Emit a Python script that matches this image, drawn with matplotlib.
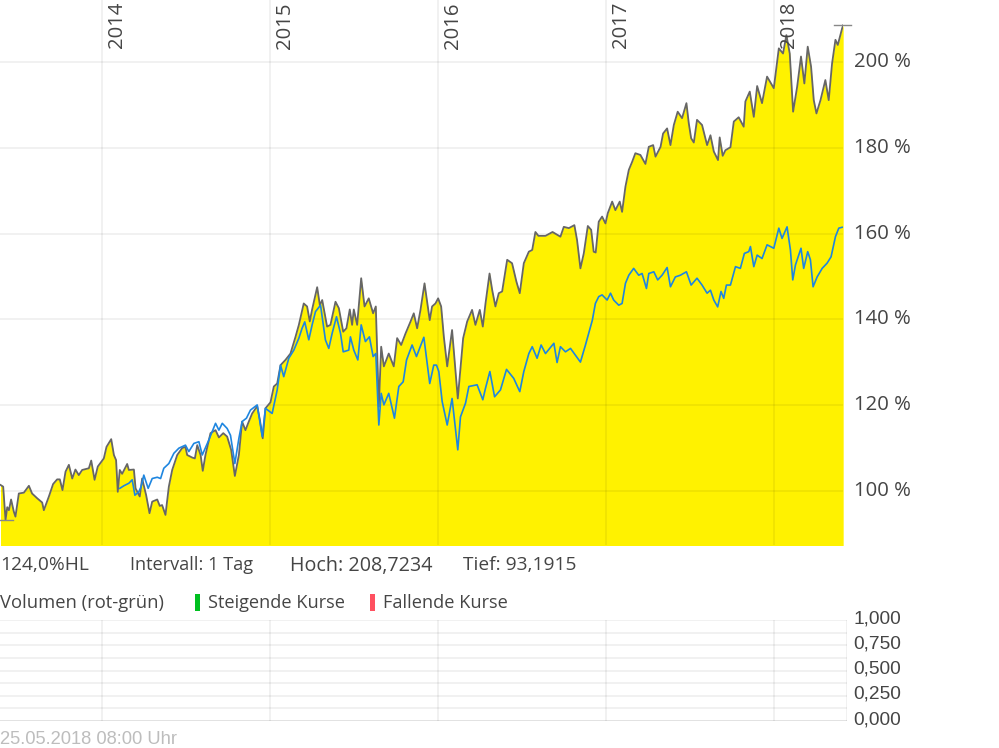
import matplotlib
matplotlib.use("Agg")
import matplotlib.pyplot as plt
from matplotlib.patches import Rectangle

W, H = 999, 748

grey_points = [
(2013.396,101.3),(2013.412,100.9),(2013.426,93.1),(2013.436,96.1),(2013.446,95.4),(2013.459,97.9),(2013.475,95.1),(2013.485,93.9),
(2013.505,99.3),(2013.535,99.5),(2013.565,101.1),(2013.584,99.3),(2013.614,98.2),(2013.644,97.2),(2013.654,95.4),(2013.684,98.6),
(2013.709,101.5),(2013.733,102.6),(2013.749,102.6),(2013.765,100.1),(2013.783,104.4),(2013.803,106.0),(2013.823,102.8),(2013.842,104.9),
(2013.862,103.6),(2013.882,104.8),(2013.922,105.2),(2013.936,107.0),(2013.956,102.5),(2013.975,105.6),(2014.011,107.5),(2014.027,110.2),
(2014.055,112.0),(2014.071,108.3),(2014.084,107.1),(2014.094,99.7),(2014.106,104.8),(2014.120,103.9),(2014.150,106.2),(2014.160,104.8),
(2014.190,104.9),(2014.200,100.5),(2014.225,98.6),(2014.239,102.8),(2014.263,98.9),(2014.283,94.7),(2014.299,97.4),(2014.329,97.9),
(2014.344,96.4),(2014.358,96.6),(2014.378,94.3),(2014.398,100.9),(2014.418,104.8),(2014.448,108.3),(2014.477,109.9),(2014.497,110.2),
(2014.507,108.3),(2014.537,107.7),(2014.553,107.5),(2014.567,110.6),(2014.587,108.3),(2014.600,104.6),(2014.616,108.3),(2014.646,113.4),
(2014.676,114.1),(2014.696,112.4),(2014.722,113.4),(2014.745,112.6),(2014.769,109.5),(2014.791,103.4),(2014.815,108.3),(2014.834,116.1),
(2014.854,114.1),(2014.874,116.1),(2014.894,118.0),(2014.924,119.7),(2014.940,116.5),(2014.957,112.2),(2014.973,119.2),(2015.003,120.6),
(2015.023,124.3),(2015.043,125.0),(2015.063,129.3),(2015.092,130.5),(2015.122,132.0),(2015.152,135.9),(2015.172,138.7),(2015.201,143.7),
(2015.221,143.0),(2015.237,139.5),(2015.251,142.3),(2015.281,147.5),(2015.297,143.3),(2015.311,144.5),(2015.340,138.3),(2015.360,138.7),
(2015.390,144.1),(2015.410,142.6),(2015.436,137.1),(2015.455,137.9),(2015.475,142.3),(2015.489,138.7),(2015.499,142.3),(2015.519,138.7),
(2015.543,149.6),(2015.563,143.0),(2015.588,144.9),(2015.614,141.4),(2015.630,143.0),(2015.648,119.6),(2015.662,133.6),(2015.678,129.0),
(2015.707,132.0),(2015.737,129.0),(2015.757,135.6),(2015.781,134.0),(2015.807,136.7),(2015.837,139.5),(2015.856,141.4),(2015.876,137.9),
(2015.896,142.2),(2015.920,148.4),(2015.951,139.8),(2015.965,143.0),(2015.985,143.7),(2016.001,144.9),(2016.019,143.0),(2016.035,135.9),
(2016.055,129.0),(2016.084,137.5),(2016.118,121.5),(2016.150,135.6),(2016.174,139.5),(2016.203,142.2),(2016.223,138.7),(2016.249,142.2),
(2016.267,138.3),(2016.283,143.7),(2016.307,150.7),(2016.323,146.8),(2016.342,143.0),(2016.362,146.1),(2016.382,146.5),(2016.412,153.9),
(2016.441,153.1),(2016.467,148.8),(2016.487,146.1),(2016.511,153.1),(2016.541,155.8),(2016.561,156.2),(2016.580,160.4),(2016.598,159.5),
(2016.640,159.5),(2016.682,160.4),(2016.729,159.3),(2016.749,161.6),(2016.779,161.3),(2016.812,162.0),(2016.828,158.5),(2016.848,151.9),
(2016.868,155.4),(2016.892,161.8),(2016.912,160.9),(2016.927,155.8),(2016.939,155.6),(2016.957,162.8),(2016.977,164.0),(2016.997,162.4),
(2017.011,164.8),(2017.037,167.5),(2017.056,165.5),(2017.082,167.5),(2017.096,165.1),(2017.116,171.0),(2017.136,174.9),(2017.156,176.8),
(2017.175,178.8),(2017.205,178.4),(2017.235,176.3),(2017.255,180.3),(2017.281,180.7),(2017.295,178.0),(2017.325,180.3),(2017.340,183.4),
(2017.364,184.6),(2017.384,180.7),(2017.404,185.4),(2017.427,188.5),(2017.453,187.0),(2017.479,190.5),(2017.493,185.8),(2017.507,182.3),
(2017.523,181.3),(2017.542,186.6),(2017.572,185.4),(2017.602,180.7),(2017.622,183.0),(2017.642,179.2),(2017.667,177.2),(2017.677,182.5),
(2017.695,178.2),(2017.711,179.5),(2017.741,180.2),(2017.761,186.2),(2017.790,187.2),(2017.820,185.0),(2017.830,190.9),(2017.856,193.2),
(2017.880,187.3),(2017.900,194.5),(2017.929,190.5),(2017.959,196.7),(2017.999,194.0),(2018.029,203.3),(2018.054,202.1),(2018.074,206.4),
(2018.094,202.1),(2018.114,188.5),(2018.138,194.3),(2018.161,201.4),(2018.181,195.1),(2018.201,203.7),(2018.221,199.0),(2018.237,191.2),
(2018.253,188.1),(2018.277,191.2),(2018.306,195.9),(2018.326,191.2),(2018.346,199.8),(2018.366,205.3),(2018.380,204.1),(2018.406,208.0),
(2018.412,208.7),
]
grey_years = [p[0] for p in grey_points]
grey_values = [p[1] for p in grey_points]

blue_points = [
(2014.106,100.5),(2014.130,101.1),(2014.160,101.7),(2014.180,102.5),(2014.196,98.9),(2014.219,99.7),(2014.233,100.9),(2014.249,103.6),
(2014.275,100.5),(2014.299,102.8),(2014.329,103.1),(2014.349,102.8),(2014.368,105.2),(2014.398,106.3),(2014.428,108.7),(2014.458,109.9),
(2014.497,110.6),(2014.517,109.1),(2014.547,111.0),(2014.577,111.4),(2014.597,108.3),(2014.636,111.8),(2014.676,115.7),(2014.696,114.1),
(2014.716,115.7),(2014.745,114.5),(2014.765,112.9),(2014.791,106.3),(2014.815,112.2),(2014.834,116.1),(2014.860,116.9),(2014.884,118.8),
(2014.924,120.0),(2014.954,112.6),(2014.973,119.2),(2015.013,118.0),(2015.043,123.5),(2015.063,129.3),(2015.082,126.6),(2015.112,130.9),
(2015.142,132.8),(2015.172,135.6),(2015.191,137.9),(2015.207,139.4),(2015.231,135.2),(2015.251,138.7),(2015.271,141.8),(2015.301,143.3),
(2015.330,135.2),(2015.350,133.2),(2015.370,136.7),(2015.396,140.6),(2015.420,136.7),(2015.436,132.4),(2015.469,132.8),(2015.479,135.9),
(2015.499,132.8),(2015.523,130.5),(2015.543,138.7),(2015.568,134.8),(2015.592,135.9),(2015.614,131.3),(2015.630,132.0),(2015.648,115.3),
(2015.662,122.7),(2015.678,120.0),(2015.707,122.7),(2015.741,116.9),(2015.767,124.3),(2015.793,125.4),(2015.813,130.5),(2015.846,134.0),
(2015.872,131.3),(2015.916,135.8),(2015.951,125.0),(2015.975,129.3),(2015.991,129.3),(2016.005,127.8),(2016.025,120.8),(2016.055,115.3),
(2016.084,121.5),(2016.118,109.5),(2016.134,117.2),(2016.164,120.4),(2016.184,124.3),(2016.233,124.7),(2016.267,121.2),(2016.283,123.9),
(2016.309,127.8),(2016.337,121.9),(2016.372,123.5),(2016.408,128.3),(2016.451,126.2),(2016.487,123.1),(2016.511,127.8),(2016.541,132.0),
(2016.561,133.6),(2016.590,130.9),(2016.614,134.0),(2016.640,132.0),(2016.690,134.4),(2016.709,129.9),(2016.729,133.6),(2016.759,132.4),
(2016.789,133.2),(2016.848,130.0),(2016.878,134.0),(2016.919,139.8),(2016.937,143.7),(2016.957,145.3),(2016.977,145.7),(2017.007,144.5),
(2017.027,146.1),(2017.046,144.5),(2017.076,143.3),(2017.096,143.7),(2017.116,148.4),(2017.136,150.3),(2017.165,151.9),(2017.195,150.3),
(2017.215,150.7),(2017.241,147.2),(2017.255,150.7),(2017.285,151.1),(2017.308,149.2),(2017.334,150.3),(2017.364,152.1),(2017.384,147.6),
(2017.413,149.9),(2017.443,150.3),(2017.479,151.1),(2017.507,148.0),(2017.542,149.6),(2017.572,148.0),(2017.602,146.1),(2017.622,146.8),
(2017.642,144.5),(2017.665,142.9),(2017.685,146.5),(2017.701,144.9),(2017.717,148.0),(2017.741,148.0),(2017.771,152.3),(2017.800,151.9),
(2017.824,155.4),(2017.850,155.8),(2017.860,157.0),(2017.880,152.3),(2017.900,155.0),(2017.929,154.2),(2017.959,157.4),(2017.999,156.6),
(2018.029,161.3),(2018.048,158.9),(2018.078,161.6),(2018.098,156.2),(2018.112,149.2),(2018.128,152.7),(2018.161,156.6),(2018.177,151.9),
(2018.201,155.8),(2018.217,153.9),(2018.233,147.6),(2018.257,149.9),(2018.287,151.9),(2018.316,153.1),(2018.340,154.6),(2018.366,159.3),
(2018.386,161.3),(2018.406,161.5),
]
blue_years = [p[0] for p in blue_points]
blue_values = [p[1] for p in blue_points]

year_ticks = [2014, 2015, 2016, 2017, 2018]
pct_ticks = [100, 120, 140, 160, 180, 200]
vol_labels = ["0,000", "0,250", "0,500", "0,750", "1,000"]
vol_ticks = [0, 0.25, 0.5, 0.75, 1.0]
vol_grid = [0, 0.125, 0.25, 0.375, 0.5, 0.625, 0.75, 0.875, 1.0]
high_value = 208.7234
low_value = 93.1915

TXT = "#454545"
GRID_ALPHA = 0.065
plt.rcParams["font.family"] = "Open Sans"

fig = plt.figure(figsize=(W / 100, H / 100), dpi=100, facecolor="white")

def box(l, t, r, b):
    return [l / W, 1 - b / H, (r - l) / W, (b - t) / H]

ax = fig.add_axes(box(0, 0, 843, 545))
ax.set_xlim(2013.393, 2018.411)
ax.set_ylim(87.27, 214.6)
for s in ax.spines.values():
    s.set_visible(False)
ax.fill_between(grey_years, grey_values, 80, color="#FFF200", lw=0, zorder=1)
ax.set_xticks(year_ticks)
ax.set_yticks(pct_ticks)
ax.grid(True, color="black", alpha=GRID_ALPHA, lw=1.2, zorder=2)
ax.set_axisbelow(False)
ax.tick_params(length=0, labelbottom=False)
ax.yaxis.tick_right()
ax.set_yticklabels([f"{v} %" for v in pct_ticks], fontsize=14.6, color=TXT, va="center")
ax.tick_params(axis="y", pad=8)
ax.plot(grey_years, grey_values, color="#666666", lw=1.3, zorder=3, solid_joinstyle="round")
ax.plot(blue_years, blue_values, color="#1E86E0", lw=1.2, zorder=4, solid_joinstyle="round")
ax.plot([2018.355, 2018.456], [high_value, high_value], color="#888888", lw=1, clip_on=False, zorder=5)
ax.plot([2013.393, 2013.473], [low_value, low_value], color="#888888", lw=1, clip_on=False, zorder=5)
for y in year_ticks:
    ax.annotate(str(y), (y, 1), xycoords=("data", "axes fraction"), xytext=(10.5, -1.5),
                textcoords="offset points", rotation=90, ha="center", va="top",
                fontsize=14.6, color=TXT, zorder=6)

vol = fig.add_axes(box(0, 620, 847, 721))
vol.set_xlim(2013.393, 2018.435)
vol.set_ylim(0, 1)
for s in vol.spines.values():
    s.set_visible(False)
vol.set_xticks(year_ticks)
vol.set_yticks(vol_grid)
vol.grid(True, color="black", alpha=GRID_ALPHA, lw=1.2)
vol.axvline(2018.435, color="black", alpha=GRID_ALPHA, lw=1.2)
vol.axhline(0, color="black", alpha=GRID_ALPHA, lw=2)
vol.tick_params(length=0, labelbottom=False, labelleft=False)
for v, label_text in zip(vol_ticks, vol_labels):
    vol.annotate(label_text, (1, v), xycoords=("axes fraction", "data"), xytext=(4.6, 1.0),
                 textcoords="offset points", ha="left", va="center", fontsize=13.8,
                 color=TXT, family="Liberation Sans", annotation_clip=False)

def label(px, py, s, **kw):
    kw.setdefault("fontsize", 13.1)
    kw.setdefault("color", TXT)
    fig.text(px / W, 1 - py / H, s, ha="left", va="baseline", **kw)

label(0, 569.5, "124,0%HL", fontsize=13.8)
label(130, 569.5, "Intervall: 1 Tag")
label(290, 571.5, "Hoch: 208,7234", fontsize=14.2)
label(463, 569.5, "Tief: 93,1915", fontsize=13.8)
label(0, 608, "Volumen (rot-grün)", fontsize=13.2)
label(208, 608, "Steigende Kurse")
label(383, 608, "Fallende Kurse")
label(0, 744, "25.05.2018 08:00 Uhr", color="#BDBDBD", family="Liberation Sans", fontsize=13.2)
for l, c in [(195, "#00C020"), (370, "#FF5060")]:
    fig.add_artist(Rectangle((l / W, 1 - 611 / H), 5 / W, 17 / H, transform=fig.transFigure,
                             facecolor=c, edgecolor="none"))

fig.savefig("out.png", dpi=100, facecolor="white")
